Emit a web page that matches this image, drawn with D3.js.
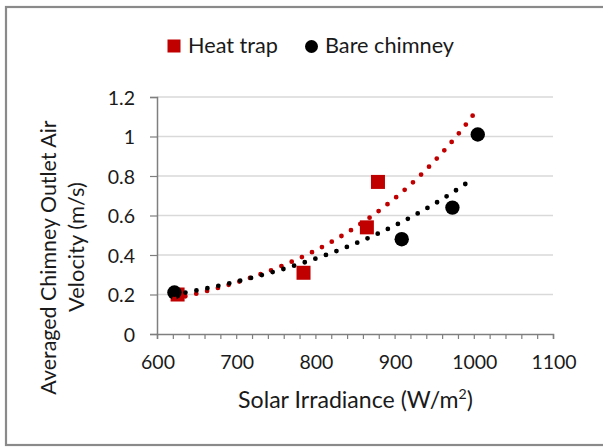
<!DOCTYPE html>
<html><head><meta charset="utf-8">
<script src="https://cdn.jsdelivr.net/npm/d3@7"></script>
<style>
html,body{margin:0;padding:0;background:#fff;}
svg text{font-family:Lato, "Open Sans", sans-serif;fill:#1a1a1a;}
</style></head>
<body>
<svg id="chart" width="603" height="448"></svg>
<script>
// ---- data ----
const seriesNames = ["Heat trap", "Bare chimney"];
const heatTrapX = [626, 785, 865, 879];
const heatTrapY = [0.20, 0.31, 0.54, 0.77];
const bareX = [622, 909, 973, 1005];
const bareY = [0.21, 0.48, 0.64, 1.01];
const xTicks = [600, 700, 800, 900, 1000, 1100];
const yTicks = [0, 0.2, 0.4, 0.6, 0.8, 1, 1.2];
const yTickLabels = ["0", "0.2", "0.4", "0.6", "0.8", "1", "1.2"];
const heatTrapTrendRange = [622, 1003];
const bareTrendRange = [622, 995];
const xTitle = "Solar Irradiance (W/m";
const yTitleLines = ["Averaged Chimney Outlet Air", "Velocity (m/s)"];

const RED = "#C00000", BLACK = "#000000";
const svg = d3.select("#chart");

// scale a text element's font so its rendered width matches a target
function fitWidth(sel, target) {
  const node = sel.node();
  const fs = parseFloat(sel.attr("font-size"));
  const w = node.getBBox().width;
  if (w > 0) {
    const k = target / w;
    sel.attr("font-size", fs * k);
    sel.selectAll("tspan").each(function () {
      const t = d3.select(this);
      if (t.attr("font-size")) t.attr("font-size", parseFloat(t.attr("font-size")) * k);
      if (t.attr("dy")) t.attr("dy", parseFloat(t.attr("dy")) * k);
    });
  }
  return sel;
}

// outer border
svg.append("rect").attr("x", 6).attr("y", 7).attr("width", 610).attr("height", 438)
  .attr("fill", "none").attr("stroke", "#8a8a8a").attr("stroke-width", 2.2);

const x = d3.scaleLinear().domain([600, 1100]).range([157, 553]);
const y = d3.scaleLinear().domain([0, 1.2]).range([334, 97]);

// gridlines
svg.append("g").selectAll("line").data(yTicks.filter(d => d > 0)).join("line")
  .attr("x1", x(600)).attr("x2", x(1100))
  .attr("y1", d => y(d)).attr("y2", d => y(d))
  .attr("stroke", "#d9d9d9").attr("stroke-width", 1.5);

// axes
const gx = svg.append("g").attr("transform", `translate(0,${y(0)})`)
  .call(d3.axisBottom(x).tickValues(d3.range(600, 1101, 20)).tickSize(5).tickFormat(""));
gx.select(".domain").attr("stroke", "#7f7f7f").attr("stroke-width", 1.5);
gx.selectAll(".tick line").attr("stroke", "#7f7f7f").attr("stroke-width", 1.2);

const gy = svg.append("g").attr("transform", `translate(${x(600)},0)`)
  .call(d3.axisLeft(y).tickValues(yTicks).tickSize(7).tickFormat(""));
gy.select(".domain").attr("stroke", "#7f7f7f").attr("stroke-width", 1.5);
gy.selectAll(".tick line").attr("stroke", "#7f7f7f").attr("stroke-width", 1.2);

// tick labels
svg.append("g").selectAll("text").data(xTicks).join("text")
  .attr("x", d => x(d) + 1).attr("y", 369).attr("text-anchor", "middle")
  .attr("font-size", 19.5).text(d => d);
svg.append("g").selectAll("text").data(yTicks).join("text")
  .attr("x", 135).attr("y", d => y(d) + 7.5).attr("text-anchor", "end")
  .attr("font-size", 19.5).text((d, i) => yTickLabels[i]);

// axis titles
const xt = svg.append("text").attr("x", 355.5).attr("y", 408).attr("text-anchor", "middle")
  .attr("font-size", 18);
xt.append("tspan").text(xTitle);
xt.append("tspan").attr("font-size", 11).attr("dy", -7).text("2");
xt.append("tspan").attr("dy", 7).text(")");
fitWidth(xt, 235);

fitWidth(svg.append("text").attr("transform", "translate(56,257.5) rotate(-90)")
  .attr("text-anchor", "middle").attr("font-size", 18).text(yTitleLines[0]), 275);
fitWidth(svg.append("text").attr("transform", "translate(84,247) rotate(-90)")
  .attr("text-anchor", "middle").attr("font-size", 18).text(yTitleLines[1]), 130);

// exponential fit
function expFit(xs, ys) {
  const ly = ys.map(Math.log);
  const mx = d3.mean(xs), my = d3.mean(ly);
  let sxy = 0, sxx = 0;
  xs.forEach((v, i) => { sxy += (v - mx) * (ly[i] - my); sxx += (v - mx) ** 2; });
  const b = sxy / sxx, a = my - b * mx;
  return v => Math.exp(a + b * v);
}

// markers
svg.append("g").selectAll("rect").data(heatTrapX).join("rect")
  .attr("x", d => x(d) - 7).attr("y", (d, i) => y(heatTrapY[i]) - 7)
  .attr("width", 14).attr("height", 14).attr("fill", RED);
svg.append("g").selectAll("circle").data(bareX).join("circle")
  .attr("cx", d => x(d)).attr("cy", (d, i) => y(bareY[i])).attr("r", 7.2).attr("fill", BLACK);

// trendlines
function trend(xs, ys, range, color) {
  const f = expFit(xs, ys);
  const pts = d3.range(range[0], range[1] + 0.1, 1);
  svg.append("path").datum(pts)
    .attr("d", d3.line().x(d => x(d)).y(d => y(f(d))))
    .attr("fill", "none").attr("stroke", color).attr("stroke-width", 4.8)
    .attr("stroke-linecap", "round").attr("stroke-dasharray", "0 11.2");
}
trend(heatTrapX, heatTrapY, heatTrapTrendRange, RED);
trend(bareX, bareY, bareTrendRange, BLACK);

// legend
svg.append("rect").attr("x", 167.5).attr("y", 39.5).attr("width", 13).attr("height", 13).attr("fill", RED);
fitWidth(svg.append("text").attr("x", 188).attr("y", 52.5).attr("font-size", 18).text(seriesNames[0]), 90);
svg.append("circle").attr("cx", 311.5).attr("cy", 46.5).attr("r", 6.5).attr("fill", BLACK);
fitWidth(svg.append("text").attr("x", 325).attr("y", 52.5).attr("font-size", 18).text(seriesNames[1]), 130);
</script>
</body></html>
